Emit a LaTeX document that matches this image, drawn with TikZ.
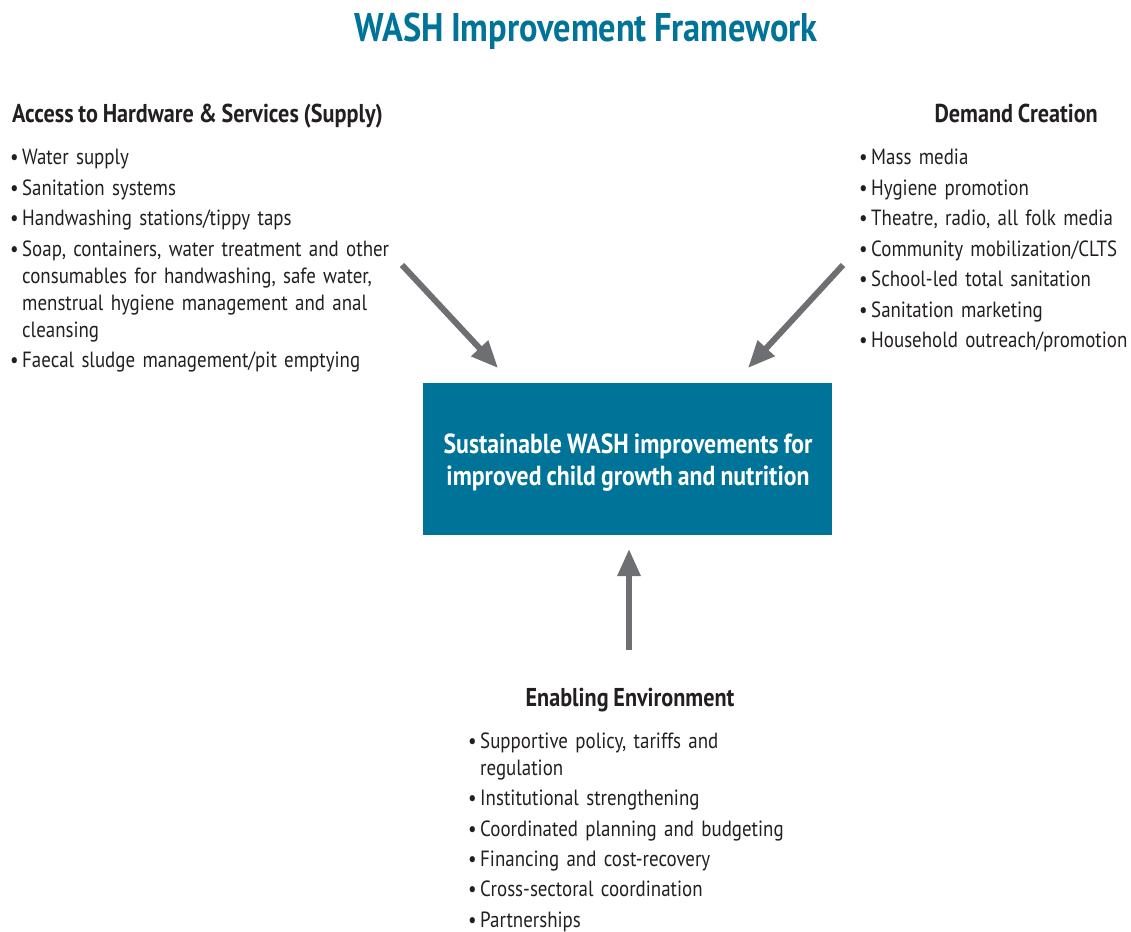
\documentclass[tikz,border=0pt]{standalone}
\usepackage{fontspec}
\setmainfont{PT Sans}[FakeStretch=0.86,WordSpace=0.85]
\usetikzlibrary{arrows.meta}
\definecolor{washteal}{RGB}{0,115,152}
\definecolor{arrowgray}{RGB}{110,111,115}
\definecolor{ink}{RGB}{35,31,32}
\newcommand\itm[1]{\par\hangindent=12pt\hangafter=1\noindent\strut\makebox[12pt][l]{•}#1}
\begin{document}
\begin{tikzpicture}[x=1pt,y=-1pt,
  txt/.style={inner sep=0pt, text=ink},
  titletext/.style={inner sep=0pt, text=washteal, font=\fontsize{40}{46}\selectfont\bfseries},
  head/.style={txt, font=\fontsize{25.8}{30}\selectfont\bfseries},
  listbox/.style={txt, anchor=north west, text width=420pt, align=left, font=\fontsize{22}{27}\selectfont},
  centerbox/.style={fill=washteal, minimum width=409pt, minimum height=152pt, inner sep=0pt},
  centertext/.style={inner sep=0pt, text=white, align=center, font=\fontsize{27.6}{32}\selectfont\bfseries},
  arr/.style={draw=arrowgray, line width=6pt, -{Triangle[length=27pt,width=22pt]}}
]
\useasboundingbox (0,0) rectangle (1131,931);

\node[titletext, anchor=base] (title) at (586,42) {WASH Improvement Framework};

\node[head, anchor=base west] (h1) at (12,122) {Access to Hardware \& Services (Supply)};
\node[head, anchor=base east] (h2) at (1098,122) {Demand Creation};
\node[head, anchor=base] (h3) at (630,706) {Enabling Environment};

\node[listbox] (l1) at (10,134) {\setlength{\parskip}{3.5pt}%
\itm{Water supply}
\itm{Sanitation systems}
\itm{Handwashing stations/tippy taps}
\itm{Soap, containers, water treatment and other\newline consumables for handwashing, safe water,\newline menstrual hygiene management and anal\newline cleansing}
\itm{Faecal sludge management/pit emptying}};

\node[listbox] (l2) at (859,134) {\setlength{\parskip}{3.5pt}%
\itm{Mass media}
\itm{Hygiene promotion}
\itm{Theatre, radio, all folk media}
\itm{Community mobilization/CLTS}
\itm{School-led total sanitation}
\itm{Sanitation marketing}
\itm{Household outreach/promotion}};

\node[listbox] (l3) at (468,718) {\setlength{\parskip}{3.3pt}%
\itm{Supportive policy, tariffs and\newline regulation}
\itm{Institutional strengthening}
\itm{Coordinated planning and budgeting}
\itm{Financing and cost-recovery}
\itm{Cross-sectoral coordination}
\itm{Partnerships}};

\node[centerbox] (core) at (627.5,459) {};
\node[centertext] (coretext) at (628,463) {Sustainable WASH improvements for\\improved child growth and nutrition};

\coordinate (a1s) at (402,265);
\coordinate (a1e) at (498,368);
\coordinate (a2s) at (843,265);
\coordinate (a2e) at (748,368);
\coordinate (a3s) at (629,650);
\coordinate (a3e) at (629,549);
\draw[arr] (a1s) -- (a1e);
\draw[arr] (a2s) -- (a2e);
\draw[arr] (a3s) -- (a3e);
\end{tikzpicture}
\end{document}
